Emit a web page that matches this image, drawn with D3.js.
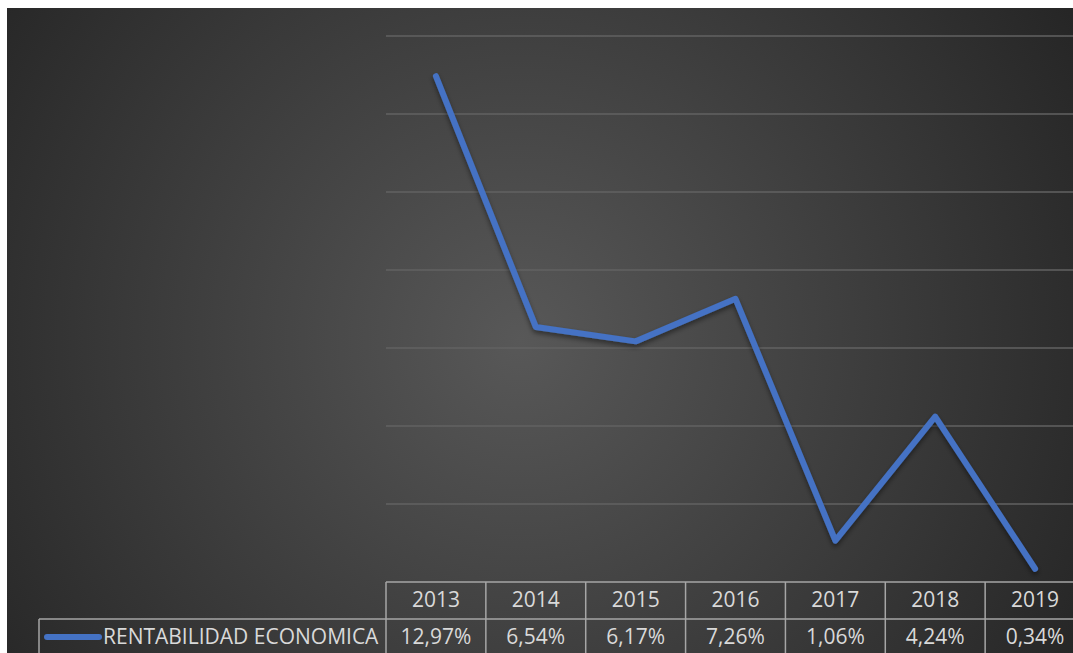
<!DOCTYPE html>
<html>
<head>
<meta charset="utf-8">
<script src="https://cdn.jsdelivr.net/npm/d3@7"></script>
<style>
  html, body { margin: 0; padding: 0; background: #ffffff; overflow: hidden; }
  svg { display: block; }
</style>
</head>
<body>
<svg id="chart" width="1073" height="653"></svg>
<script>
// Data
const years = ["2013", "2014", "2015", "2016", "2017", "2018", "2019"];
const rentabilidad = [12.97, 6.54, 6.17, 7.26, 1.06, 4.24, 0.34];
const valueLabels = ["12,97%", "6,54%", "6,17%", "7,26%", "1,06%", "4,24%", "0,34%"];
const seriesName = "RENTABILIDAD ECONOMICA";
const gridTicks = [0, 2, 4, 6, 8, 10, 12, 14];

const svg = d3.select("#chart");
const W = 1073, H = 653;

// Layout
const chartLeft = 7, chartTop = 8;
const plotLeft = 386, plotRight = 1085, plotTop = 36, plotBottom = 582;
const rowH = 37;
const legendLeft = 39;
const textColor = "#d9d9d9";
const borderColor = "#a6a6a6";
const lineColor = "#4472c4";
const fontFamily = "'Open Sans', 'Noto Sans', sans-serif";
const fontSize = 21;

const defs = svg.append("defs");
const grad = defs.append("radialGradient")
  .attr("id", "bg")
  .attr("gradientUnits", "userSpaceOnUse")
  .attr("cx", 520).attr("cy", 340).attr("r", 640);
grad.append("stop").attr("offset", "0").attr("stop-color", "#585858");
grad.append("stop").attr("offset", "1").attr("stop-color", "#262626");

const shadow = defs.append("filter").attr("id", "shadow")
  .attr("x", "-10%").attr("y", "-10%").attr("width", "120%").attr("height", "120%");
shadow.append("feDropShadow")
  .attr("dx", 0).attr("dy", 3).attr("stdDeviation", 2.5)
  .attr("flood-color", "#000").attr("flood-opacity", 0.45);

// Chart area background
svg.append("rect")
  .attr("x", chartLeft).attr("y", chartTop)
  .attr("width", W - chartLeft).attr("height", H - chartTop)
  .attr("fill", "url(#bg)");

// Scales
const x = d3.scaleBand().domain(years).range([plotLeft, plotRight]).padding(0);
const y = d3.scaleLinear().domain([0, 14]).range([plotBottom, plotTop]);

// Horizontal gridlines
svg.append("g")
  .selectAll("line")
  .data(gridTicks.filter(t => t > 0))
  .join("line")
  .attr("x1", plotLeft).attr("x2", plotRight)
  .attr("y1", d => y(d)).attr("y2", d => y(d))
  .attr("stroke", "#626262").attr("stroke-width", 1.3);

// Data table
const table = svg.append("g").attr("stroke", borderColor).attr("stroke-width", 1.5).attr("fill", "none");
const row1 = plotBottom, row2 = plotBottom + rowH, row3 = H + 10;
table.append("line").attr("x1", plotLeft).attr("x2", plotRight).attr("y1", row1).attr("y2", row1);
table.append("line").attr("x1", legendLeft).attr("x2", plotRight).attr("y1", row2).attr("y2", row2);
table.append("line").attr("x1", legendLeft).attr("x2", legendLeft).attr("y1", row2).attr("y2", row3);
table.selectAll("line.col")
  .data(years.concat(["end"]))
  .join("line")
  .attr("class", "col")
  .attr("x1", (d, i) => i < years.length ? x(d) : plotRight)
  .attr("x2", (d, i) => i < years.length ? x(d) : plotRight)
  .attr("y1", row1).attr("y2", row3);

// Year headers
svg.append("g")
  .selectAll("text")
  .data(years)
  .join("text")
  .attr("x", d => x(d) + x.bandwidth() / 2)
  .attr("y", row1 + 25)
  .attr("text-anchor", "middle")
  .attr("font-family", fontFamily)
  .attr("font-size", fontSize)
  .attr("fill", textColor)
  .text(d => d);

// Value cells
svg.append("g")
  .selectAll("text")
  .data(valueLabels)
  .join("text")
  .attr("x", (d, i) => x(years[i]) + x.bandwidth() / 2)
  .attr("y", row2 + 25)
  .attr("text-anchor", "middle")
  .attr("font-family", fontFamily)
  .attr("font-size", fontSize)
  .attr("fill", textColor)
  .text(d => d);

// Legend key and series name
svg.append("line")
  .attr("x1", 47).attr("x2", 99)
  .attr("y1", row2 + 18).attr("y2", row2 + 18)
  .attr("stroke", lineColor).attr("stroke-width", 6)
  .attr("stroke-linecap", "round");
svg.append("text")
  .attr("x", 103).attr("y", row2 + 25)
  .attr("font-family", fontFamily)
  .attr("font-size", fontSize)
  .attr("fill", textColor)
  .text(seriesName);

// Series line
const line = d3.line()
  .x((d, i) => x(years[i]) + x.bandwidth() / 2)
  .y(d => y(d));
svg.append("path")
  .datum(rentabilidad)
  .attr("d", line)
  .attr("fill", "none")
  .attr("stroke", lineColor)
  .attr("stroke-width", 6)
  .attr("stroke-linecap", "round")
  .attr("stroke-linejoin", "round")
  .attr("filter", "url(#shadow)");
</script>
</body>
</html>
